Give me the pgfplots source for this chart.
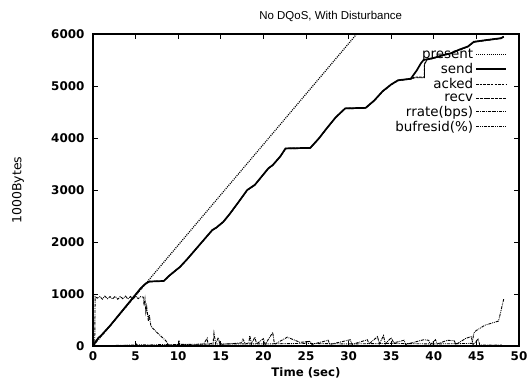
\documentclass[border=0pt]{standalone}
\usepackage{pgfplots}
\pgfplotsset{compat=1.18}
\usepackage{fontspec}
\setmainfont{DejaVu Sans}
\newfontfamily\titlefont{Liberation Sans}
\begin{document}
\begin{tikzpicture}
\begin{axis}[
  at={(0bp,0bp)}, anchor=south west,
  scale only axis, width=426bp, height=312bp,
  xmin=0, xmax=50, ymin=0, ymax=6000,
  xtick={0,5,...,50}, ytick={0,1000,...,6000},
  tick align=inside, major tick length=5bp,
  xtick pos=both, ytick pos=both, ticklabel pos=left,
  axis line style={line width=1.3bp},
  every tick/.style={line width=1bp,black},
  /pgf/number format/assume math mode=true,
  /pgf/number format/set thousands separator={},
  tick label style={font=\bfseries\fontsize{12}{12}\selectfont},
  yticklabel style={xshift=-5bp},
  xticklabel style={yshift=-4.5bp, inner ysep=1bp},
  xlabel={\bfseries Time (sec)},
  xlabel style={font=\fontsize{11.8}{11.8}\selectfont, at={(axis description cs:0.5,0)}, anchor=center, yshift=-26.5bp, inner ysep=0pt},
  ylabel={1000Bytes},
  ylabel style={font=\fontsize{12.5}{12.5}\selectfont, at={(axis description cs:0,0.5)}, anchor=center, rotate=0, xshift=0bp, yshift=75bp},
  title={\titlefont No DQoS, With Disturbance},
  title style={font=\fontsize{11.5}{11.5}\selectfont, at={(axis description cs:0.558,1)}, anchor=center, yshift=12bp},
  legend style={at={(rel axis cs:0.972,0.959)}, anchor=north east, draw=none, fill=none,
    font=\fontsize{13.5}{13.5}\selectfont, row sep=-0.6bp, inner sep=0pt},
  legend cell align=right,
  legend plot pos=right,
  legend image code/.code={\draw[#1] (0bp,0bp) -- (30bp,0bp);},
  clip=true,
]
% present
\addplot[black, line width=1.2bp, dash pattern=on 1bp off 1.1bp] coordinates {(0,0) (31,6010)};
\addlegendentry{present}
% send
\addplot[black, line width=1.7bp] coordinates {
(0,0) (0.3,80) (0.6,150) (1.0,210) (1.5,300) (2,390) (3,590) (4,790) (5,990) (5.6,1110) (6.1,1190) (6.6,1240) (8.3,1250) (9,1360) (10.2,1520) (11,1660) (12,1850) (13,2040) (14,2230) (14.5,2280) (15.3,2390) (16,2530) (17,2750) (18.1,3000) (19,3100) (20,3300) (20.6,3420) (21.1,3480) (22,3650) (22.6,3800) (25.5,3810) (26.5,3990) (27.5,4200) (28.5,4400) (29.6,4570) (32,4580) (33,4720) (34,4900) (35,5030) (35.8,5110) (37.3,5140) (38,5300) (38.5,5440) (38.8,5500) (40,5540) (41,5590) (42,5630) (43,5700) (44,5760) (44.7,5850) (46,5880) (47.9,5920) (48.2,5950)};
\addlegendentry{send}
% acked
\addplot[black, line width=1.1bp, dash pattern=on 2.5bp off 1.2bp] coordinates {
(0,0) (0.3,80) (0.6,150) (1.0,210) (1.5,300) (2,390) (3,590) (4,790) (5,990) (5.6,1110) (6.1,1190) (6.6,1240) (8.3,1250) (9,1360) (10.2,1520) (11,1660) (12,1850) (13,2040) (14,2230) (14.5,2280) (15.3,2390) (16,2530) (17,2750) (18.1,3000) (19,3100) (20,3300) (20.6,3420) (21.1,3480) (22,3650) (22.6,3800) (25.5,3810) (26.5,3990) (27.5,4200) (28.5,4400) (29.6,4570) (32,4580) (33,4720) (34,4900) (35,5030) (35.8,5110) (37.3,5140) (37.8,5170) (38.9,5170) (38.9,5420) (39.2,5510) (40,5540) (41,5590) (42,5630) (43,5700) (44,5760) (44.7,5850) (46,5880) (47.9,5920) (48.2,5950)};
\addlegendentry{acked}
% recv
\addplot[black, line width=0.7bp, dash pattern=on 3bp off 0.8bp] coordinates {
(0,0) (0.3,70) (0.6,140) (1.0,200) (1.5,290) (2,380) (3,580) (4,780) (5,980) (5.6,1100) (6.1,1180) (6.6,1235) (8.3,1245) (9,1350) (10.2,1510) (11,1650) (12,1840) (13,2030) (14,2220) (14.5,2270) (15.3,2380) (16,2520) (17,2740) (18.1,2990) (19,3090) (20,3290) (20.6,3410) (21.1,3470) (22,3640) (22.6,3790) (25.5,3800) (26.5,3980) (27.5,4190) (28.5,4390) (29.6,4560) (32,4570) (33,4710) (34,4890) (35,5020) (35.8,5100) (37.3,5130) (37.8,5160) (38.9,5160) (38.9,5410) (39.2,5500) (40,5530) (41,5580) (42,5620) (43,5690) (44,5750) (44.7,5840) (46,5870) (47.9,5910) (48.2,5940)};
\addlegendentry{recv}
% rrate
\addplot[black, line width=0.9bp, dash pattern=on 3bp off 1bp on 0.8bp off 1bp] coordinates {
(0,0) (0.2,0) (0.25,950) (0.5,920) (0.8,950) (1.1,900) (1.4,960) (1.7,910) (2.0,950) (2.3,905) (2.6,955) (2.9,900) (3.2,950) (3.5,910) (3.8,960) (4.1,905) (4.4,950) (4.7,900) (5.0,960) (5.3,910) (5.6,950) (5.9,940) (6.0,780) (6.1,900) (6.2,650) (6.3,760) (6.5,480) (6.6,600) (6.8,380) (7.5,260) (8.5,110) (8.9,20) (9.5,10) (10,20) (10.1,110) (10.2,10) (11,30) (12,20) (13,40) (13.4,150) (13.5,30) (14.1,60) (14.2,250) (14.4,40) (14.7,160) (14.9,30) (16,40) (17.4,60) (17.6,130) (17.9,40) (18.3,60) (18.4,200) (18.6,40) (19,170) (19.2,40) (20,140) (20.2,30) (21.1,260) (21.3,30) (22.8,170) (24.3,70) (25.5,90) (25.7,30) (27.6,110) (27.8,30) (30.2,120) (30.4,30) (32.2,120) (32.4,40) (33.4,180) (33.6,40) (34.1,200) (34.3,40) (35,160) (35.3,60) (36.5,110) (36.7,30) (38.8,120) (39.4,110) (39.6,30) (40.2,120) (40.4,40) (41.6,110) (42.4,100) (42.6,30) (43.8,150) (44.4,180) (44.6,30) (45.2,130) (45.4,20) (48,20)};
\addlegendentry{rrate(bps)}
% bufresid
\addplot[black, line width=0.9bp, dash pattern=on 3bp off 1bp on 0.8bp off 1bp on 0.8bp off 1bp] coordinates {
(0,0) (5,20) (5.05,60) (5.1,20) (10,30) (15,40) (20,40) (25,50) (30,40) (35,50) (40,40) (44.5,50) (44.7,250) (45,300) (46,400) (47.6,480) (48.2,900)};
\addlegendentry{bufresid(\%)}
\end{axis}
\pgfresetboundingbox
\path[use as bounding box] (-93bp,-33bp) rectangle (437bp,346bp);
\end{tikzpicture}
\end{document}
